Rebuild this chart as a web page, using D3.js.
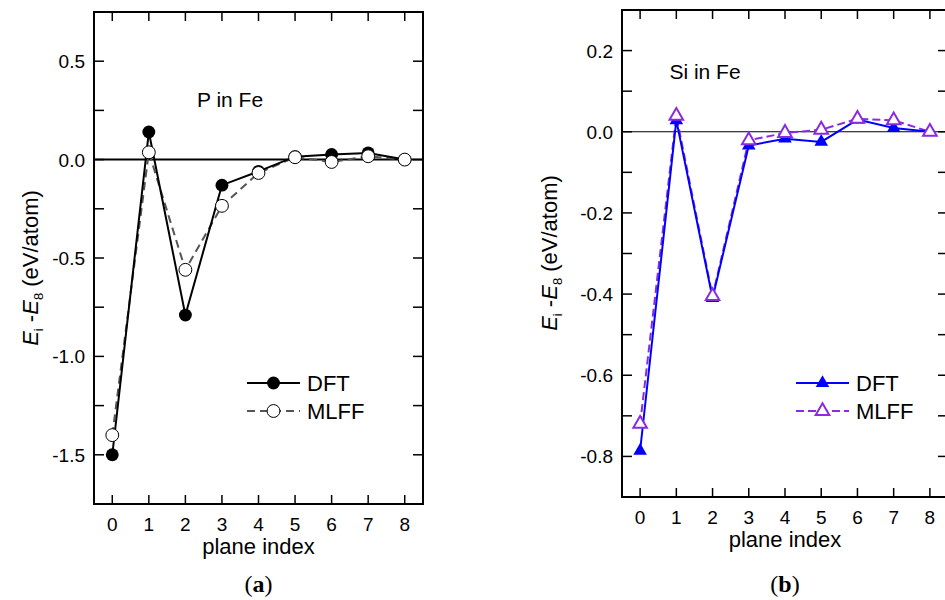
<!DOCTYPE html>
<html>
<head>
<meta charset="utf-8">
<script src="https://cdn.jsdelivr.net/npm/d3@7"></script>
<style>
body { margin: 0; background: #fff; }
svg { display: block; font-family: "Liberation Sans", Arial, sans-serif; }
</style>
</head>
<body>
<div id="chart"></div>
<script>
// plane indices shared by both panels
const planes = [0, 1, 2, 3, 4, 5, 6, 7, 8];

// (a) P in Fe
const p_dft  = [-1.50, 0.14, -0.79, -0.13, -0.06, 0.015, 0.026, 0.034, 0.0];
const p_mlff = [-1.40, 0.037, -0.56, -0.235, -0.068, 0.012, -0.012, 0.017, 0.0];
const p_majorTicks = [-1.5, -1.0, -0.5, 0.0, 0.5];

// (b) Si in Fe
const si_dft  = [-0.786, 0.028, -0.41, -0.034, -0.017, -0.025, 0.03, 0.009, 0.0];
const si_mlff = [-0.72, 0.039, -0.405, -0.021, -0.003, 0.005, 0.032, 0.028, 0.0];
const si_majorTicks = [-0.8, -0.6, -0.4, -0.2, 0.0, 0.2];

const W = 945, H = 600;
const svg = d3.select("#chart").append("svg").attr("width", W).attr("height", H);

function drawPanel(opt) {
    let x = d3.scaleLinear().domain([-0.5, 8.5]).range([opt.left, opt.right]);
    let y = d3.scaleLinear().domain(opt.yDomain).range([opt.bottom, opt.top]);
    let g = svg.append("g");

    // zero line
    g.append("line")
        .attr("x1", opt.left).attr("x2", opt.right)
        .attr("y1", y(0)).attr("y2", y(0))
        .attr("stroke", "#000").attr("stroke-width", opt.zeroWidth);

    // ticks (inward, mirrored on all sides)
    let minor = d3.range(opt.yDomain[0], opt.yDomain[1] + 1e-9, opt.minorStep);
    minor.forEach(function(v) {
        if (Math.abs(v - opt.yDomain[0]) < 1e-9 || Math.abs(v - opt.yDomain[1]) < 1e-9) return;
        g.append("line").attr("x1", opt.left).attr("x2", opt.left + 10)
            .attr("y1", y(v)).attr("y2", y(v)).attr("stroke", "#000").attr("stroke-width", 1.5);
        g.append("line").attr("x1", opt.right).attr("x2", opt.right - 10)
            .attr("y1", y(v)).attr("y2", y(v)).attr("stroke", "#000").attr("stroke-width", 1.5);
    });
    planes.forEach(function(p) {
        g.append("line").attr("x1", x(p)).attr("x2", x(p))
            .attr("y1", opt.bottom).attr("y2", opt.bottom - 9).attr("stroke", "#000").attr("stroke-width", 1.5);
        g.append("line").attr("x1", x(p)).attr("x2", x(p))
            .attr("y1", opt.top).attr("y2", opt.top + 9).attr("stroke", "#000").attr("stroke-width", 1.5);
    });

    // tick labels
    g.selectAll(".ylab").data(opt.majorTicks).enter().append("text")
        .attr("x", opt.left - 9).attr("y", function(d) { return y(d) + 7; })
        .attr("text-anchor", "end").style("font-size", "19px")
        .text(function(d) { return d3.format(opt.fmt)(d).replace("−", "-"); });
    g.selectAll(".xlab").data(planes).enter().append("text")
        .attr("x", function(d) { return x(d); }).attr("y", opt.bottom + 27)
        .attr("text-anchor", "middle").style("font-size", "19px")
        .text(function(d) { return d; });

    // frame
    g.append("rect")
        .attr("x", opt.left).attr("y", opt.top)
        .attr("width", opt.right - opt.left).attr("height", opt.bottom - opt.top)
        .attr("fill", "none").attr("stroke", "#000").attr("stroke-width", 2);

    // series
    let line = d3.line().x(function(d, i) { return x(planes[i]); }).y(function(d) { return y(d); });
    g.append("path").datum(opt.mlff).attr("d", line)
        .attr("fill", "none").attr("stroke", opt.mlffColor).attr("stroke-width", 2)
        .attr("stroke-dasharray", opt.dash);
    g.append("path").datum(opt.dft).attr("d", line)
        .attr("fill", "none").attr("stroke", opt.dftColor).attr("stroke-width", 2);

    let sym = d3.symbol().type(opt.symbol).size(opt.symSize);
    g.selectAll(".dft").data(opt.dft).enter().append("path")
        .attr("d", sym)
        .attr("transform", function(d, i) { return "translate(" + x(planes[i]) + "," + y(d) + ")"; })
        .attr("fill", opt.dftColor);
    g.selectAll(".mlff").data(opt.mlff).enter().append("path")
        .attr("d", sym)
        .attr("transform", function(d, i) { return "translate(" + x(planes[i]) + "," + y(d) + ")"; })
        .attr("fill", "#fff").attr("stroke", opt.mlffMarkerStroke).attr("stroke-width", opt.mlffMarkerWidth);

    // title
    g.append("text").attr("x", opt.titleX).attr("y", opt.titleY)
        .attr("text-anchor", "middle").style("font-size", "21px").text(opt.title);

    // legend
    let lx = opt.legendX, rows = [
        {name: "DFT", color: opt.dftColor, dash: null, filled: true, yy: 383},
        {name: "MLFF", color: opt.mlffColor, dash: opt.dash, filled: false, yy: 411}
    ];
    rows.forEach(function(r) {
        g.append("line").attr("x1", lx).attr("x2", lx + 53).attr("y1", r.yy).attr("y2", r.yy)
            .attr("stroke", r.color).attr("stroke-width", 2).attr("stroke-dasharray", r.dash);
        g.append("path").attr("d", sym).attr("transform", "translate(" + (lx + 26.5) + "," + r.yy + ")")
            .attr("fill", r.filled ? r.color : "#fff")
            .attr("stroke", r.filled ? "none" : opt.mlffMarkerStroke)
            .attr("stroke-width", opt.mlffMarkerWidth);
        g.append("text").attr("x", lx + 60).attr("y", r.yy + 8)
            .style("font-size", "22px").text(r.name);
    });

    // y axis label
    let yl = g.append("text")
        .attr("transform", "translate(" + opt.yLabelX + "," + opt.yLabelY + ") rotate(-90)")
        .attr("text-anchor", "middle").style("font-size", "22px");
    yl.append("tspan").style("font-style", "italic").text("E");
    yl.append("tspan").attr("dy", 5).style("font-size", "13px").text("i");
    yl.append("tspan").attr("dy", -5).text(" -");
    yl.append("tspan").style("font-style", "italic").text("E");
    yl.append("tspan").attr("dy", 5).style("font-size", "13px").text("8");
    yl.append("tspan").attr("dy", -5).text(" (eV/atom)");

    // x axis label
    g.append("text").attr("x", x(4)).attr("y", opt.bottom + 50)
        .attr("text-anchor", "middle").style("font-size", "22px").text("plane index");

    // panel letter
    let pl = g.append("text").attr("x", x(4)).attr("y", 592)
        .attr("text-anchor", "middle").style("font-size", "24px")
        .style("font-family", "'Liberation Serif', 'DejaVu Serif', serif");
    pl.append("tspan").text("(");
    pl.append("tspan").style("font-weight", "bold").text(opt.letter);
    pl.append("tspan").text(")");
}

drawPanel({
    left: 94, right: 423, top: 12, bottom: 504,
    yDomain: [-1.75, 0.75], minorStep: 0.25, majorTicks: p_majorTicks, fmt: ".1f",
    dft: p_dft, mlff: p_mlff,
    dftColor: "#000", mlffColor: "#555", mlffMarkerStroke: "#000", mlffMarkerWidth: 1,
    symbol: d3.symbolCircle, symSize: 130, dash: "8,5", zeroWidth: 2,
    title: "P in Fe", titleX: 230, titleY: 107,
    legendX: 247, yLabelX: 38, yLabelY: 268, letter: "a"
});

drawPanel({
    left: 622, right: 948, top: 10, bottom: 497,
    yDomain: [-0.9, 0.3], minorStep: 0.1, majorTicks: si_majorTicks, fmt: ".1f",
    dft: si_dft, mlff: si_mlff,
    dftColor: "#0000ff", mlffColor: "#8a2be2", mlffMarkerStroke: "#8a2be2", mlffMarkerWidth: 2,
    symbol: d3.symbolTriangle, symSize: 80, dash: "8,4", zeroWidth: 1.2,
    title: "Si in Fe", titleX: 705, titleY: 79,
    legendX: 796, yLabelX: 557, yLabelY: 253, letter: "b"
});
</script>
</body>
</html>
